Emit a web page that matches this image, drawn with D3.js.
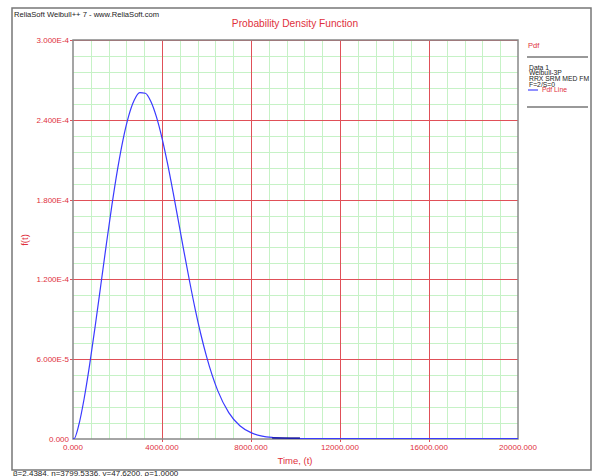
<!DOCTYPE html>
<html>
<head>
<meta charset="utf-8">
<script src="https://cdn.jsdelivr.net/npm/d3@7"></script>
<style>
  body { margin: 0; background: #fff; }
  text { font-family: "Liberation Sans", Arial, sans-serif; }
</style>
</head>
<body>
<svg id="chart"></svg>
<script>
const width = 593;
const height = 476;

// pdf values
const timeValues = [0, 47.6, 250, 500, 750, 1000, 1250, 1500, 1750, 2000, 2250, 2500, 2750, 3000,
  3250, 3500, 3750, 4000, 4250, 4500, 4750, 5000, 5250, 5500, 5750, 6000, 6500, 7000,
  7500, 8000, 8500, 9000, 9500, 10000, 20000];
const pdfValues = [0, 0, 9.45e-6, 2.99e-5, 5.57e-5, 8.48e-5, 1.154e-4, 1.462e-4, 1.756e-4, 2.022e-4,
  2.248e-4, 2.424e-4, 2.543e-4, 2.600e-4, 2.596e-4, 2.534e-4, 2.418e-4, 2.259e-4, 2.066e-4,
  1.850e-4, 1.623e-4, 1.394e-4, 1.173e-4, 9.66e-5, 7.80e-5, 6.17e-5, 3.62e-5, 1.95e-5,
  9.6e-6, 4.4e-6, 1.8e-6, 7e-7, 2e-7, 0, 0];
const darkTail = [8950, 10200];

const xTicks = [0, 4000, 8000, 12000, 16000, 20000];
const xTickLabels = ["0.000", "4000.000", "8000.000", "12000.000", "16000.000", "20000.000"];
const yTicks = [0, 6e-5, 1.2e-4, 1.8e-4, 2.4e-4, 3e-4];
const yTickLabels = ["0.000", "6.000E-5", "1.200E-4", "1.800E-4", "2.400E-4", "3.000E-4"];
const legendLines = ["Data 1", "Weibull-3P", "RRX SRM MED FM", "F=2/S=0"];

const red = "#e0303c";
const plot = { left: 73, top: 40, right: 518, bottom: 439 };

const svg = d3.select("#chart").attr("width", width).attr("height", height);

const x = d3.scaleLinear().domain([0, 20000]).range([plot.left, plot.right]);
const y = d3.scaleLinear().domain([0, 3e-4]).range([plot.bottom, plot.top]);

// outer frame
svg.append("rect")
  .attr("x", 12).attr("y", 8).attr("width", 579).attr("height", 462)
  .attr("fill", "none").attr("stroke", "#777").attr("stroke-width", 1.5);

svg.append("text")
  .attr("x", 14).attr("y", 17)
  .style("font-size", "7.6px").attr("fill", "#222")
  .text("ReliaSoft Weibull++ 7 - www.ReliaSoft.com");

svg.append("text")
  .attr("x", 295).attr("y", 27).attr("text-anchor", "middle")
  .style("font-size", "10.2px").attr("fill", red)
  .text("Probability Density Function");

// minor grid, 5 per major step
const xMinor = d3.range(0, 26).map(i => i * 800).filter((v, i) => i % 5 !== 0);
const yMinor = d3.range(0, 26).map(i => i * 1.2e-5).filter((v, i) => i % 5 !== 0);

const grid = svg.append("g");
grid.selectAll(".xm").data(xMinor).enter().append("line")
  .attr("x1", d => Math.round(x(d)) + 0.5).attr("x2", d => Math.round(x(d)) + 0.5)
  .attr("y1", plot.top).attr("y2", plot.bottom)
  .attr("stroke", "#c6f2c6").attr("stroke-width", 1);
grid.selectAll(".ym").data(yMinor).enter().append("line")
  .attr("y1", d => Math.round(y(d)) + 0.5).attr("y2", d => Math.round(y(d)) + 0.5)
  .attr("x1", plot.left).attr("x2", plot.right)
  .attr("stroke", "#c6f2c6").attr("stroke-width", 1);

// major grid
grid.selectAll(".xM").data(xTicks.slice(1, -1)).enter().append("line")
  .attr("x1", d => Math.round(x(d)) + 0.5).attr("x2", d => Math.round(x(d)) + 0.5)
  .attr("y1", plot.top).attr("y2", plot.bottom + 3)
  .attr("stroke", "#e05058").attr("stroke-width", 1);
grid.selectAll(".yM").data(yTicks.slice(1)).enter().append("line")
  .attr("y1", d => Math.round(y(d)) + 0.5).attr("y2", d => Math.round(y(d)) + 0.5)
  .attr("x1", plot.left - 3).attr("x2", plot.right)
  .attr("stroke", "#e05058").attr("stroke-width", 1);

// plot border
svg.append("rect")
  .attr("x", plot.left).attr("y", plot.top)
  .attr("width", plot.right - plot.left).attr("height", plot.bottom - plot.top)
  .attr("fill", "none").attr("stroke", "#888").attr("stroke-width", 1.5);

// tick labels
svg.selectAll(".xl").data(xTicks).enter().append("text")
  .attr("x", d => x(d)).attr("y", 450).attr("text-anchor", "middle")
  .style("font-size", "8px").attr("fill", red)
  .text((d, i) => xTickLabels[i]);
svg.selectAll(".yl").data(yTicks).enter().append("text")
  .attr("x", 69).attr("y", d => y(d) + 3).attr("text-anchor", "end")
  .style("font-size", "8px").attr("fill", red)
  .text((d, i) => yTickLabels[i]);

svg.append("text")
  .attr("x", 295).attr("y", 464).attr("text-anchor", "middle")
  .style("font-size", "9.5px").attr("fill", red)
  .text("Time, (t)");
svg.append("text")
  .attr("transform", "translate(28,240) rotate(-90)").attr("text-anchor", "middle")
  .style("font-size", "9.5px").attr("fill", red)
  .text("f(t)");

// curve
const line = d3.line()
  .x((d, i) => x(timeValues[i]))
  .y(d => y(d) - 0.5)
  .curve(d3.curveMonotoneX);
svg.append("path")
  .datum(pdfValues)
  .attr("d", line)
  .attr("fill", "none").attr("stroke", "#3a3aff").attr("stroke-width", 1.2);
svg.append("line")
  .attr("x1", x(darkTail[0])).attr("x2", x(darkTail[1]))
  .attr("y1", y(0) - 1).attr("y2", y(0) - 1)
  .attr("stroke", "#10108a").attr("stroke-width", 1.3);

// legend
const lg = svg.append("g");
lg.append("text").attr("x", 528).attr("y", 48)
  .style("font-size", "7.5px").attr("fill", red).text("Pdf");
lg.append("line").attr("x1", 527).attr("x2", 588).attr("y1", 57).attr("y2", 57)
  .attr("stroke", "#777").attr("stroke-width", 1.5);
lg.selectAll(".ll").data(legendLines).enter().append("text")
  .attr("x", 529).attr("y", (d, i) => 69.5 + i * 5.8)
  .style("font-size", "6.8px").attr("fill", "#222").text(d => d);
lg.append("line").attr("x1", 528).attr("x2", 538).attr("y1", 90).attr("y2", 90)
  .attr("stroke", "#2020ff").attr("stroke-width", 1);
lg.append("text").attr("x", 542).attr("y", 92.4)
  .style("font-size", "6.8px").attr("fill", red).text("Pdf Line");
lg.append("line").attr("x1", 527).attr("x2", 588).attr("y1", 107).attr("y2", 107)
  .attr("stroke", "#777").attr("stroke-width", 1.5);

svg.append("text")
  .attr("x", 13).attr("y", 476)
  .style("font-size", "8px").attr("fill", "#222")
  .text("β=2.4384, η=3799.5336, γ=47.6200, ρ=1.0000");
</script>
</body>
</html>
